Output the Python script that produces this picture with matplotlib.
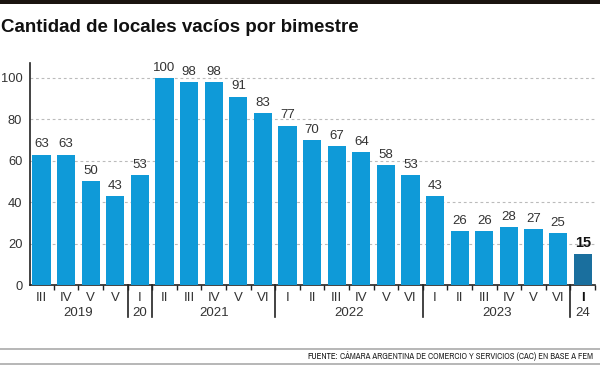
import matplotlib
matplotlib.use("Agg")
import matplotlib.pyplot as plt
from matplotlib import font_manager as fm
import matplotlib.transforms as mtransforms
import numpy as np

cond = [f for f in fm.fontManager.ttflist
        if str(f.stretch) in ("condensed", "semi-condensed", "extra-condensed") or "Narrow" in f.name
        or "Condensed" in f.name]
cond_desc = sorted({(f.name, str(f.stretch), str(f.weight)) for f in cond})

BASE = "Liberation Sans"
NARROW = BASE
NARROW_STRETCH = "normal"
for nm, st, wt in cond_desc:
    if "DejaVu Sans" == nm or "Narrow" in nm:
        NARROW = nm
        NARROW_STRETCH = st
        break

title = "Cantidad de locales vacíos por bimestre"
values = [63, 63, 50, 43, 53, 100, 98, 98, 91, 83, 77, 70, 67, 64, 58, 53, 43, 26, 26, 28, 27, 25, 15]
periods = ["III", "IV", "V", "V", "I", "II", "III", "IV", "V", "VI",
           "I", "II", "III", "IV", "V", "VI", "I", "II", "III", "IV", "V", "VI", "I"]
years = ["2019", "20", "2021", "2022", "2023", "24"]
year_sizes = [4, 1, 5, 6, 6, 1]
yticks = [0, 20, 40, 60, 80, 100]
source_bold = "FUENTE:"
source_text = " CÁMARA ARGENTINA DE COMERCIO Y SERVICIOS (CAC) EN BASE A FEM"

BLUE = "#0f9ad8"
DARK = "#1a6f9e"
TXT = "#333333"

W, H = 600, 365
fig = plt.figure(figsize=(6, 3.65), dpi=100)
fig.patch.set_facecolor("white")

# top black band
fig.add_artist(plt.Rectangle((0, 1 - 3.5 / H), 1, 3.5 / H, transform=fig.transFigure,
                             color="#1a1410", lw=0))
fig.text(1 / W, 1 - 27 / H, title, fontsize=13.5, fontweight="bold", family=BASE,
         color="#111111", va="center", ha="left")

ax_l, ax_r, ax_b, ax_t = 30, 595, 285, 63
ax = fig.add_axes([ax_l / W, 1 - ax_b / H, (ax_r - ax_l) / W, (ax_b - ax_t) / H])
n = len(values)
x = np.arange(n)
colors = [BLUE] * (n - 1) + [DARK]
ax.bar(x, values, width=0.74, color=colors, zorder=3)
ax.set_xlim(-0.47, n - 0.5)
ax.set_ylim(0, 107.2)

for i, v in enumerate(values):
    last = i == n - 1
    ax.annotate(str(v), (i, v), xytext=(0, 3), textcoords="offset points",
                ha="center", va="bottom", fontsize=10.5 if last else 9.5,
                fontweight="bold" if last else "normal",
                color="#111111" if last else TXT, family=BASE, zorder=4)

ax.set_yticks(yticks)
ax.set_yticklabels([str(t) for t in yticks], fontsize=9.3, color=TXT, family=BASE)
ax.tick_params(axis="y", length=0, pad=5.5)
for t in yticks[1:]:
    ax.axhline(t, color="#bbbbbb", lw=0.8, ls=(0, (2.5, 2.5)), zorder=1)

ax.set_xticks(x)
ax.set_xticklabels(periods, fontsize=9.5, color=TXT, family=BASE)
ax.get_xticklabels()[-1].set_fontweight("bold")
ax.get_xticklabels()[-1].set_color("#111111")
ax.tick_params(axis="x", which="major", length=0, pad=5)
ax.set_xticks(np.arange(n) + 0.5, minor=True)
ax.tick_params(axis="x", which="minor", length=3.5, width=1, color="#222222", direction="out")

for s in ["top", "right"]:
    ax.spines[s].set_visible(False)
ax.spines["left"].set_color("#222222")
ax.spines["bottom"].set_color("#222222")
ax.spines["left"].set_linewidth(1.2)
ax.spines["bottom"].set_linewidth(1.2)

trans = mtransforms.blended_transform_factory(ax.transData, ax.transAxes)
cum = np.cumsum(year_sizes)
starts = np.concatenate([[0], cum[:-1]])
for c in cum[:-1]:
    ax.plot([c - 0.5, c - 0.5], [0, -0.145], transform=trans, color="#222222",
            lw=1.2, clip_on=False)
for yr, s, size in zip(years, starts, year_sizes):
    ax.text(s + (size - 1) / 2, -0.125, yr, transform=trans, ha="center", va="center",
            fontsize=9.5, color=TXT, family=BASE)

# footer
fig.add_artist(plt.Line2D([0, 1], [1 - 349 / H, 1 - 349 / H], transform=fig.transFigure,
                          color="#aaaaaa", lw=1.2))
fig.add_artist(plt.Line2D([0, 1], [1 - 363.5 / H, 1 - 363.5 / H], transform=fig.transFigure,
                          color="#aaaaaa", lw=1.2))

fs = 6.4
renderer = fig.canvas.get_renderer()
while True:
    t1 = fig.text(307 / W, 1 - 356.5 / H, source_bold, fontsize=fs, fontweight="bold",
                  family=NARROW, fontstretch=NARROW_STRETCH, color="#111111",
                  va="center", ha="left")
    bb = t1.get_window_extent(renderer)
    t2 = fig.text(bb.x1 / W, 1 - 356.5 / H, source_text, fontsize=fs, family=NARROW,
                  fontstretch=NARROW_STRETCH, color="#222222", va="center", ha="left")
    bb2 = t2.get_window_extent(renderer)
    if bb2.x1 <= W - 2 or fs < 4.5:
        break
    t1.remove()
    t2.remove()
    fs -= 0.1

fig.savefig("out.png", dpi=100, facecolor="white")
